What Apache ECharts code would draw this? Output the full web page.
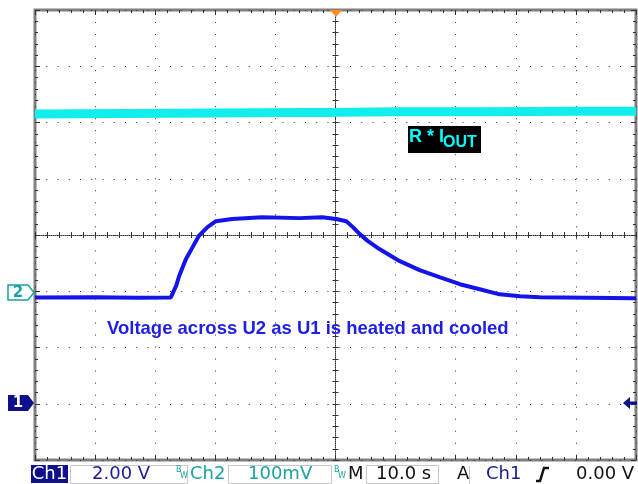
<!DOCTYPE html>
<html><head><meta charset="utf-8">
<script src="https://cdn.jsdelivr.net/npm/echarts@6/dist/echarts.min.js"></script>
<style>html,body{margin:0;padding:0;background:#fff}#c{width:638px;height:484px}</style>
</head><body><div id="c"></div>
<script>
// Time base: 10 s/div, trigger at centre (0 s)
const timeTicks = [-50, -40, -30, -20, -10, 0, 10, 20, 30, 40, 50];
// Ch1 (blue, 2.00 V/div, ground marker "1")
const ch1Time  = [-50, -40, -33, -27.4, -26.5, -26, -24.9, -23.8, -22.7, -21.3, -19.9, -17.2, -12.2, -6, -2.2, 0.1, 1.8, 2.9, 4, 5.3, 7.3, 10.7, 14, 17.3, 20.7, 24, 27.3, 30.7, 34, 42, 50];
const ch1Volts = [3.78, 3.79, 3.77, 3.78, 4.2, 4.55, 5.14, 5.56, 5.98, 6.28, 6.49, 6.57, 6.63, 6.60, 6.63, 6.57, 6.49, 6.28, 6.04, 5.80, 5.50, 5.07, 4.75, 4.50, 4.25, 4.07, 3.89, 3.82, 3.79, 3.77, 3.75];
// Ch2 (cyan, 100 mV/div, ground marker "2")
const ch2Time = [-50, -35, -20, -5, 0, 10, 25, 40, 50];
const ch2mV   = [315, 316, 317, 318, 318, 319, 319, 320, 320];

const ch1 = ch1Time.map((t, i) => [t, ch1Volts[i]]);
const ch2 = ch2Time.map((t, i) => [t, ch2mV[i]]);

const GRID = '#333';
const base = (o) => Object.assign({
  type: 'value', axisLabel: {show: false}, splitLine: {show: false},
  axisLine: {show: false}, axisTick: {show: false}, minorTick: {show: false}
}, o);
const xa = (o) => base(Object.assign({min: timeTicks[0], max: timeTicks[timeTicks.length - 1], interval: 10}, o));
const ya = (o) => base(Object.assign({min: -4, max: 4, interval: 1}, o));
const tick = (inside, len) => ({show: true, inside: inside, length: len, lineStyle: {color: GRID, width: 1}});
const mtick = (len) => ({show: true, splitNumber: 5, length: len, lineStyle: {color: GRID, width: 1}});

const chart = echarts.init(document.getElementById('c'), null, {renderer: 'canvas'});
const F = '"DejaVu Sans", Verdana, sans-serif';
const A = '"Liberation Sans", Arial, sans-serif';
const NAVY = '#1a1a96', TEAL = '#1aa3a3';

chart.setOption({
  animation: false,
  backgroundColor: '#fff',
  grid: {left: 35, right: 2, top: 10, bottom: 24, show: true, borderColor: '#808080', borderWidth: 3, backgroundColor: 'transparent'},
  xAxis: [
    xa({position: 'bottom', axisLine: {show: true, onZero: true, onZeroAxisIndex: 0, lineStyle: {color: GRID, width: 1, type: [1, 1]}},
        axisTick: tick(true, 3), minorTick: mtick(3),
        splitLine: {show: true, lineStyle: {color: GRID, width: 1, type: [1, 11.02]}}}),
    xa({position: 'bottom', axisLine: {show: false, onZero: true, onZeroAxisIndex: 0}, axisTick: tick(false, 3), minorTick: mtick(3)}),
    xa({position: 'bottom', axisLine: {show: false, onZero: false}, axisTick: tick(true, 5), minorTick: mtick(3)}),
    xa({position: 'top', axisLine: {show: false, onZero: false}, axisTick: tick(true, 5), minorTick: mtick(3)})
  ],
  yAxis: [
    ya({position: 'left', axisLine: {show: true, onZero: true, onZeroAxisIndex: 0, lineStyle: {color: GRID, width: 1, type: [1, 1]}},
        axisTick: tick(true, 3), minorTick: mtick(3),
        splitLine: {show: true, lineStyle: {color: GRID, width: 1, type: [1, 10.25]}}}),
    ya({position: 'left', axisLine: {show: false, onZero: true, onZeroAxisIndex: 0}, axisTick: tick(false, 3), minorTick: mtick(3)}),
    ya({position: 'left', axisLine: {show: false, onZero: false}, axisTick: tick(true, 5), minorTick: mtick(3)}),
    ya({position: 'right', axisLine: {show: false, onZero: false}, axisTick: tick(true, 5), minorTick: mtick(3)}),
    {type: 'value', min: -2, max: 14, interval: 2, show: false},
    {type: 'value', min: -300, max: 500, interval: 100, show: false}
  ],
  series: [
    {name: 'Ch2', type: 'line', xAxisIndex: 0, yAxisIndex: 5, data: ch2, showSymbol: false, silent: true,
     lineStyle: {color: '#12eeee', width: 9}, z: 3},
    {name: 'Ch1', type: 'line', xAxisIndex: 0, yAxisIndex: 4, data: ch1, showSymbol: false, silent: true,
     lineStyle: {color: '#1414ea', width: 4}, z: 4}
  ],
  graphic: [
    // trigger position marker
    {type: 'polygon', shape: {points: [[330, 10], [342, 10], [336, 17]]}, style: {fill: '#ff8c1a'}, z: 20},
    // Ch2 ground marker
    {type: 'polygon', shape: {points: [[8, 285], [28, 285], [34, 292.5], [28, 300], [8, 300]]}, style: {fill: '#fff', stroke: TEAL, lineWidth: 1.5}, z: 20},
    {type: 'text', style: {text: '2', x: 18, y: 293, font: 'bold 15px ' + F, fill: TEAL, textAlign: 'center', textVerticalAlign: 'middle'}, z: 21},
    // Ch1 ground marker
    {type: 'polygon', shape: {points: [[8, 395], [28, 395], [34, 403], [28, 411], [8, 411]]}, style: {fill: '#10108c'}, z: 20},
    {type: 'text', style: {text: '1', x: 18, y: 403.5, font: 'bold 15px ' + F, fill: '#fff', textAlign: 'center', textVerticalAlign: 'middle'}, z: 21},
    // Ch1 trigger level arrow
    {type: 'polygon', shape: {points: [[623, 403], [630, 397], [630, 401.5], [637, 401.5], [637, 404.5], [630, 404.5], [630, 409]]}, style: {fill: '#10108c'}, z: 20},
    // annotations
    {type: 'rect', shape: {x: 408, y: 126, width: 73, height: 27}, style: {fill: '#000'}, z: 20},
    {type: 'text', style: {text: 'R * I', x: 409, y: 137, font: 'bold 18px ' + A, fill: '#00ffff', textVerticalAlign: 'middle'}, z: 21},
    {type: 'text', style: {text: 'OUT', x: 443, y: 142.5, font: 'bold 16px ' + A, fill: '#00ffff', textVerticalAlign: 'middle'}, z: 21},
    {type: 'text', style: {text: 'Voltage across U2 as U1 is heated and cooled', x: 107, y: 328.5, font: 'bold 18.5px ' + A, fill: '#1e1ee6', textVerticalAlign: 'middle'}, z: 21},
    // status bar
    {type: 'rect', shape: {x: 31, y: 465, width: 37, height: 18}, style: {fill: '#10108c'}, z: 20},
    {type: 'text', style: {text: 'Ch1', x: 49.5, y: 474.5, font: '18px ' + F, fill: '#fff', textAlign: 'center', textVerticalAlign: 'middle'}, z: 21},
    {type: 'rect', shape: {x: 70.5, y: 465.5, width: 117, height: 18}, style: {fill: '#fff', stroke: '#c8c8c8', lineWidth: 1}, z: 20},
    {type: 'text', style: {text: '2.00 V', x: 92, y: 474.5, font: '18px ' + F, fill: NAVY, textVerticalAlign: 'middle'}, z: 21},
    {type: 'text', style: {text: 'B', x: 176, y: 470, font: '8px ' + F, fill: TEAL, textVerticalAlign: 'middle'}, z: 21},
    {type: 'text', style: {text: 'W', x: 180, y: 476, font: '8px ' + F, fill: TEAL, textVerticalAlign: 'middle'}, z: 21},
    {type: 'text', style: {text: 'Ch2', x: 190, y: 474.5, font: '18px ' + F, fill: TEAL, textVerticalAlign: 'middle'}, z: 21},
    {type: 'rect', shape: {x: 228.5, y: 465.5, width: 103, height: 18}, style: {fill: '#fff', stroke: '#c8c8c8', lineWidth: 1}, z: 20},
    {type: 'text', style: {text: '100mV', x: 248, y: 474.5, font: '18px ' + F, fill: TEAL, textVerticalAlign: 'middle'}, z: 21},
    {type: 'text', style: {text: 'B', x: 334, y: 470, font: '8px ' + F, fill: TEAL, textVerticalAlign: 'middle'}, z: 21},
    {type: 'text', style: {text: 'W', x: 338, y: 476, font: '8px ' + F, fill: TEAL, textVerticalAlign: 'middle'}, z: 21},
    {type: 'text', style: {text: 'M', x: 348, y: 474.5, font: '18px ' + F, fill: '#111', textVerticalAlign: 'middle'}, z: 21},
    {type: 'rect', shape: {x: 366.5, y: 465.5, width: 72, height: 18}, style: {fill: '#fff', stroke: '#c8c8c8', lineWidth: 1}, z: 20},
    {type: 'text', style: {text: '10.0 s', x: 376, y: 474.5, font: '18px ' + F, fill: '#111', textVerticalAlign: 'middle'}, z: 21},
    {type: 'text', style: {text: 'A', x: 457, y: 474.5, font: '18px ' + F, fill: '#111', textVerticalAlign: 'middle'}, z: 21},
    {type: 'line', shape: {x1: 469.5, y1: 466, x2: 469.5, y2: 484}, style: {stroke: '#c8c8c8', lineWidth: 1}, z: 20},
    {type: 'text', style: {text: 'Ch1', x: 486, y: 474.5, font: '18px ' + F, fill: NAVY, textVerticalAlign: 'middle'}, z: 21},
    {type: 'polyline', shape: {points: [[536, 481], [540, 481], [544, 468], [549, 468]]}, style: {stroke: '#111', lineWidth: 2.5, fill: null}, z: 21},
    {type: 'text', style: {text: '0.00 V', x: 576, y: 474.5, font: '18px ' + F, fill: '#111', textVerticalAlign: 'middle'}, z: 21}
  ]
});
</script>
</body></html>
